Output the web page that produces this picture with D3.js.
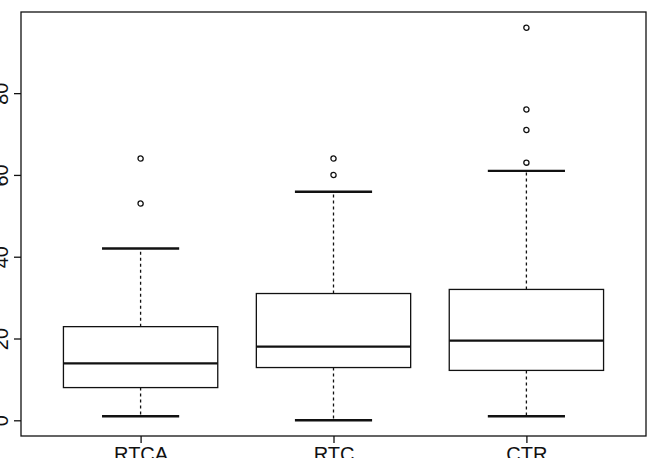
<!DOCTYPE html>
<html>
<head>
<meta charset="utf-8">
<script src="https://cdn.jsdelivr.net/npm/d3@7"></script>
<style>
  body { margin: 0; background: #fff; overflow: hidden; }
  text { font-family: "Liberation Sans", Arial, sans-serif; fill: #111; }
</style>
</head>
<body>
<div id="wrapper"></div>
<script>
const groups = ["RTCA", "RTC", "CTR"]
const lowerWhisker = [1, 0, 1]
const q1 = [8, 12.9, 12.2]
const median = [13.9, 18, 19.5]
const q3 = [22.9, 31, 32]
const upperWhisker = [42, 55.9, 61]
const outliers = [[53, 64], [60, 64], [63, 71, 76, 96]]
const yTicks = [0, 20, 40, 60, 80]

const data = groups.map((g, i) => ({
  group: g,
  lo: lowerWhisker[i],
  q1: q1[i],
  med: median[i],
  q3: q3[i],
  hi: upperWhisker[i],
  out: outliers[i]
}))

let dms = {
  width: 654,
  height: 458,
  margins: { top: 12, right: 8, bottom: 22, left: 21 }
}
dms.boundedWidth = dms.width - dms.margins.left - dms.margins.right
dms.boundedHeight = dms.height - dms.margins.top - dms.margins.bottom

const svg = d3.select("#wrapper")
  .append("svg")
  .attr("width", dms.width)
  .attr("height", dms.height)

const bounds = svg.append("g")
  .attr("transform", `translate(${dms.margins.left},${dms.margins.top})`)

// R style: data range extended by 4%
const yScale = d3.scaleLinear()
  .domain([-3.84, 99.84])
  .range([dms.boundedHeight, 0])

const xScale = d3.scalePoint()
  .domain(groups)
  .range([0, dms.boundedWidth])
  .padding(0.62)

const boxW = xScale.step() * 0.8
const capW = boxW / 2
const ink = "#111"

// whiskers (dashed)
const box = bounds.selectAll(".box")
  .data(data)
  .join("g")
  .attr("class", "box")
  .attr("transform", d => `translate(${xScale(d.group)},0)`)

box.append("line")
  .attr("y1", d => yScale(d.q3)).attr("y2", d => yScale(d.hi))
  .attr("stroke", ink).attr("stroke-width", 1.3).attr("stroke-dasharray", "3,3")
box.append("line")
  .attr("y1", d => yScale(d.q1)).attr("y2", d => yScale(d.lo))
  .attr("stroke", ink).attr("stroke-width", 1.3).attr("stroke-dasharray", "3,3")

// caps
box.append("line")
  .attr("x1", -capW / 2).attr("x2", capW / 2)
  .attr("y1", d => yScale(d.hi)).attr("y2", d => yScale(d.hi))
  .attr("stroke", ink).attr("stroke-width", 2.4)
box.append("line")
  .attr("x1", -capW / 2).attr("x2", capW / 2)
  .attr("y1", d => yScale(d.lo)).attr("y2", d => yScale(d.lo))
  .attr("stroke", ink).attr("stroke-width", 2.4)

// box
box.append("rect")
  .attr("x", -boxW / 2)
  .attr("width", boxW)
  .attr("y", d => yScale(d.q3))
  .attr("height", d => yScale(d.q1) - yScale(d.q3))
  .attr("fill", "#fff")
  .attr("stroke", ink)
  .attr("stroke-width", 1.3)

box.append("line")
  .attr("x1", -boxW / 2).attr("x2", boxW / 2)
  .attr("y1", d => yScale(d.med)).attr("y2", d => yScale(d.med))
  .attr("stroke", ink).attr("stroke-width", 2.2)

// outliers
box.selectAll("circle")
  .data(d => d.out)
  .join("circle")
  .attr("cy", d => yScale(d))
  .attr("r", 2.6)
  .attr("fill", "none")
  .attr("stroke", ink)
  .attr("stroke-width", 1.3)

// frame
bounds.append("rect")
  .attr("width", dms.boundedWidth)
  .attr("height", dms.boundedHeight)
  .attr("fill", "none")
  .attr("stroke", ink)
  .attr("stroke-width", 1.3)

// y axis
const yAxis = bounds.append("g")
  .call(d3.axisLeft(yScale).tickValues(yTicks).tickSize(7).tickPadding(13).tickFormat(d3.format("d")))
yAxis.select(".domain").remove()
yAxis.selectAll("line").attr("stroke", ink).attr("stroke-width", 1.3)
yAxis.selectAll("text")
  .attr("font-size", 20)
  .attr("text-anchor", "middle")
  .attr("dy", 0)
  .attr("x", 0)
  .attr("transform", "translate(-13,0) rotate(-90)")

// x axis
const xAxis = bounds.append("g")
  .attr("transform", `translate(0,${dms.boundedHeight})`)
  .call(d3.axisBottom(xScale).tickSize(7).tickPadding(4))
xAxis.select(".domain").remove()
xAxis.selectAll("line").attr("stroke", ink).attr("stroke-width", 1.3)
xAxis.selectAll("text")
  .attr("font-size", 20)
  .attr("dy", "0.71em")
</script>
</body>
</html>
